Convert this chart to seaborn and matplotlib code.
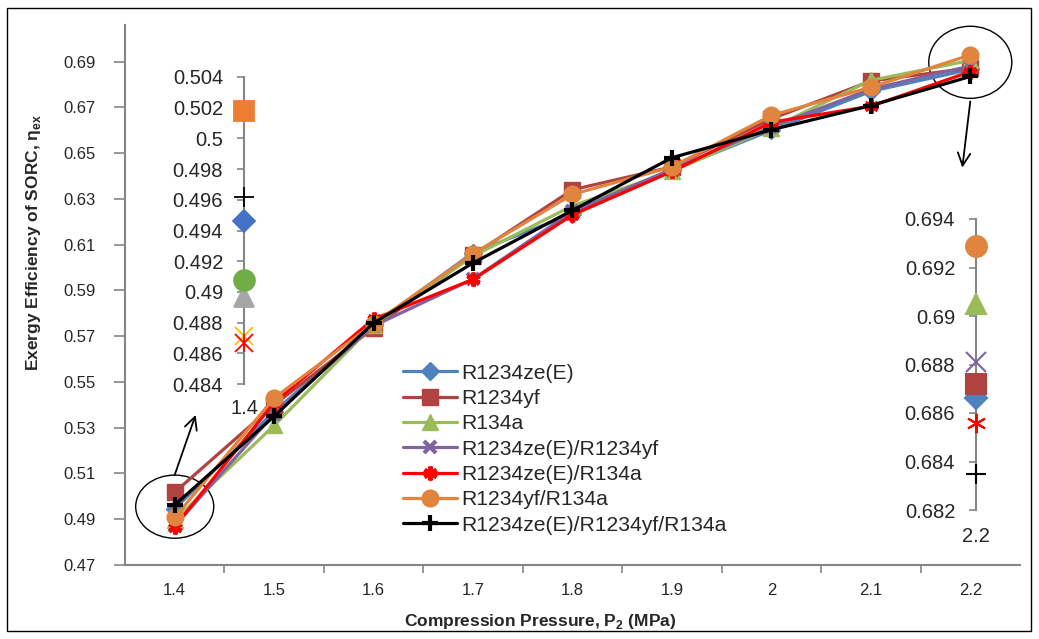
import matplotlib.pyplot as plt
import seaborn as sns
from matplotlib.patches import Ellipse, Rectangle
from matplotlib.ticker import FuncFormatter

# compression pressure (MPa)
pressure = [1.4, 1.5, 1.6, 1.7, 1.8, 1.9, 2.0, 2.1, 2.2]

# exergy efficiency
ze_e = [0.4946, 0.537, 0.575, 0.6065, 0.6235, 0.6425, 0.660, 0.677, 0.6866]
yf = [0.5018, 0.540, 0.5735, 0.6055, 0.634, 0.644, 0.665, 0.6815, 0.6872]
r134a = [0.4897, 0.531, 0.575, 0.605, 0.627, 0.642, 0.661, 0.6818, 0.6905]
ze_yf = [0.4871, 0.536, 0.5745, 0.595, 0.6245, 0.643, 0.6615, 0.678, 0.6881]
ze_134a = [0.4867, 0.541, 0.5775, 0.5948, 0.623, 0.642, 0.6635, 0.6705, 0.6856]
yf_134a = [0.4908, 0.543, 0.5755, 0.606, 0.632, 0.644, 0.6665, 0.6788, 0.6929]
ternary = [0.4962, 0.535, 0.5758, 0.602, 0.625, 0.648, 0.6602, 0.6708, 0.6835]

names = ["R1234ze(E)", "R1234yf", "R134a", "R1234ze(E)/R1234yf",
         "R1234ze(E)/R134a", "R1234yf/R134a", "R1234ze(E)/R1234yf/R134a"]

y_ticks = [0.47, 0.49, 0.51, 0.53, 0.55, 0.57, 0.59, 0.61, 0.63, 0.65, 0.67, 0.69]
left_ticks = [0.484, 0.486, 0.488, 0.49, 0.492, 0.494, 0.496, 0.498, 0.5, 0.502, 0.504]
right_ticks = [0.682, 0.684, 0.686, 0.688, 0.69, 0.692, 0.694]

sns.set_style("white")
plt.rcParams["font.family"] = ["Liberation Sans", "DejaVu Sans"]
plt.rcParams["mathtext.fontset"] = "custom"
plt.rcParams["mathtext.rm"] = "Liberation Sans"
plt.rcParams["mathtext.bf"] = "Liberation Sans:bold"

grey = "#868686"
series = [ze_e, yf, r134a, ze_yf, ze_134a, yf_134a, ternary]
colors = ["#4F81BD", "#B0433F", "#9BBB59", "#8064A2", "#FF0000", "#E0843E", "#000000"]
markers = ["D", "s", "^", "x", (6, 2, 0), "o", "+"]
msizes = [9, 11, 11, 9, 10, 12, 12]
mews = [1, 1, 1, 3, 3, 1, 3]

fig = plt.figure(figsize=(10.39, 6.39), dpi=100)
ax = fig.add_axes([125 / 1039, 74 / 639, 895 / 1039, 540 / 639])

for name, vals, c, m, ms, mew in zip(names, series, colors, markers, msizes, mews):
    sns.lineplot(x=pressure, y=vals, ax=ax, color=c, marker=m, markersize=ms,
                 markeredgewidth=mew, markeredgecolor=c, markerfacecolor=c,
                 linewidth=2.3, label=name)

ax.set_xlim(1.35, 2.25)
ax.set_ylim(0.47, 0.706)
ax.set_xticks(pressure)
ax.set_xticklabels([f"{p:g}" for p in pressure])
ax.set_xticks([p + 0.05 for p in pressure[:-1]], minor=True)
ax.set_yticks(y_ticks)
ax.yaxis.set_major_formatter(FuncFormatter(lambda v, pos: f"{round(v, 3):g}"))
for s in ["top", "right"]:
    ax.spines[s].set_visible(False)
for s in ["left", "bottom"]:
    ax.spines[s].set_color(grey)
    ax.spines[s].set_linewidth(1.5)
ax.tick_params(axis="y", direction="out", length=8, width=1.2, color=grey,
               labelsize=12, pad=13, left=True)
ax.tick_params(axis="x", which="major", length=0, labelsize=12, pad=13)
ax.tick_params(axis="x", which="minor", direction="out", length=6, width=1.2,
               color=grey, bottom=True)

ax.set_ylabel("Exergy Efficiency of SORC, η$_{\\mathbf{ex}}$",
              fontweight="bold", fontsize=12.5)
ax.set_xlabel("Compression Pressure, P$_{\\mathbf{2}}$ (MPa)",
              fontweight="bold", fontsize=12.5)
ax.yaxis.set_label_coords(-0.0916, 0.598)
ax.xaxis.set_label_coords(0.464, -0.087)

ax.legend(loc="lower left", bbox_to_anchor=(0.3106, 0.056), frameon=False,
          fontsize=15.2, handlelength=2.55, handletextpad=0.23, labelspacing=0.30,
          borderpad=0, borderaxespad=0)

# circles and arrows pointing to the zoomed views
ax.add_patch(Ellipse((1.4, 0.4955), 0.0785, 0.0276, fill=False, ec="black",
                     lw=1, clip_on=False))
ax.add_patch(Ellipse((2.2, 0.6897), 0.0835, 0.0315, fill=False, ec="black",
                     lw=1, clip_on=False))
arrow = dict(arrowstyle="->,head_length=0.9,head_width=0.45", lw=1.3,
             color="black", shrinkA=0, shrinkB=0)
ax.annotate("", xy=(1.421, 0.5356), xytext=(1.4, 0.5094), arrowprops=arrow)
ax.annotate("", xy=(2.192, 0.6437), xytext=(2.2, 0.6726), arrowprops=arrow)


def zoom_axis(rect, lo, hi, ticks, label, label_pad):
    a = fig.add_axes(rect)
    a.patch.set_alpha(0)
    a.set_xlim(-1, 1)
    a.set_ylim(lo, hi)
    for s in ["top", "right", "bottom"]:
        a.spines[s].set_visible(False)
    a.spines["left"].set_position(("data", 0))
    a.spines["left"].set_color(grey)
    a.spines["left"].set_linewidth(1.5)
    a.set_yticks(ticks)
    a.yaxis.set_major_formatter(FuncFormatter(lambda v, pos: f"{round(v, 4):g}"))
    a.tick_params(axis="y", direction="out", length=5, width=1.2, color=grey,
                  labelsize=14.5, pad=10, left=True)
    a.set_xticks([0])
    a.set_xticklabels([label])
    a.tick_params(axis="x", length=0, labelsize=14.5, pad=label_pad)
    return a


# left zoom (1.4 MPa) uses a different palette
axL = zoom_axis([230 / 1039, 255 / 639, 28 / 1039, 307 / 639], 0.484, 0.504,
                left_ticks, "1.4", 11)
left_colors = ["#4472C4", "#ED7D31", "#A5A5A5", "#FFC000", "#FF0000", "#70AD47", "#000000"]
left_markers = ["D", "s", "^", "x", "x", "o", "+"]
left_sizes = [11, 14, 14, 13, 13, 15, 15]
for vals, c, m, ms in zip(series, left_colors, left_markers, left_sizes):
    axL.plot([0], [vals[0]], marker=m, markersize=ms, color=c, zorder=3,
             markeredgecolor=c, markeredgewidth=1.3, linestyle="none")
axL.plot([0], [ze_134a[0]], marker="|", markersize=13, color="#FF0000",
         markeredgewidth=1.3, linestyle="none", zorder=3)

# right zoom (2.2 MPa)
axR = zoom_axis([962 / 1039, 129 / 639, 28 / 1039, 291 / 639], 0.682, 0.694,
                right_ticks, "2.2", 12)
right_markers = ["D", "s", "^", "x", (6, 2, 0), "o", "+"]
right_sizes = [11, 14, 14, 14, 14, 15, 15]
for vals, c, m, ms in zip(series, colors, right_markers, right_sizes):
    axR.plot([0], [vals[-1]], marker=m, markersize=ms, color=c, zorder=3,
             markeredgecolor=c, markeredgewidth=1.5, linestyle="none")

fig.add_artist(Rectangle((7 / 1039, 8 / 639), 1024 / 1039, 623 / 639,
                         transform=fig.transFigure, fill=False, ec="black", lw=1))

fig.savefig("out.png", dpi=100)
